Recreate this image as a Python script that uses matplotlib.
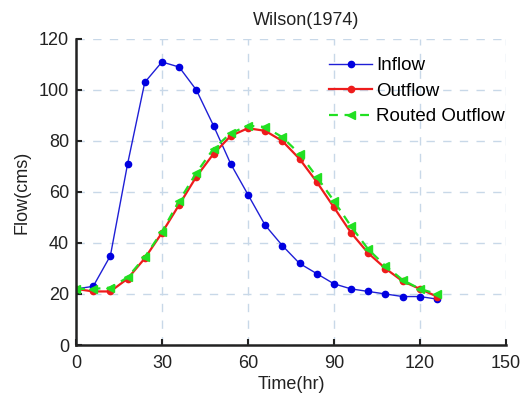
import matplotlib.pyplot as plt

plt.rcParams['font.family'] = ['Liberation Sans', 'DejaVu Sans']

time = [0, 6, 12, 18, 24, 30, 36, 42, 48, 54, 60, 66, 72, 78, 84, 90, 96, 102, 108, 114, 120, 126]
inflow = [22, 23, 35, 71, 103, 111, 109, 100, 86, 71, 59, 47, 39, 32, 28, 24, 22, 21, 20, 19, 19, 18]
outflow = [22, 21, 21, 26, 34, 44, 55, 66, 75, 82, 85, 84, 80, 73, 64, 54, 44, 36, 30, 25, 22, 19]
routed = [22, 22, 22.5, 26.5, 34.5, 44.5, 56.5, 67.5, 77, 83, 86, 85.5, 81.5, 75, 66, 56.5, 46.5, 37.5, 31, 25.5, 22, 20]

xticks = [0, 30, 60, 90, 120, 150]
yticks = [0, 20, 40, 60, 80, 100, 120]

fig = plt.figure(figsize=(5.22, 4.0), dpi=100)
ax = fig.add_axes([0.1456, 0.1375, 0.8234, 0.765])

ax.plot(time, inflow, color='#1f1fd6', marker='o', markersize=4.5, linewidth=1,
        label='Inflow', markerfacecolor='#0000e0', markeredgecolor='#0000e0')
ax.plot(time, outflow, color='#ee1c1c', marker='o', markersize=4.5, linewidth=1.6,
        label='Outflow')
ax.plot(time, routed, color='#22e022', marker='<', markersize=6, linewidth=1.6,
        linestyle='--', dashes=(4, 3), label='Routed Outflow')

ax.set_xlim(0, 150)
ax.set_ylim(0, 120)
ax.set_xticks(xticks)
ax.set_yticks(yticks)
ax.grid(True, color='#c8d8e8', linestyle=(0, (6, 6)), linewidth=1)
ax.set_axisbelow(True)
for s in ['top', 'right']:
    ax.spines[s].set_visible(False)
for s in ['left', 'bottom']:
    ax.spines[s].set_linewidth(1.8)
    ax.spines[s].set_color('#222222')
ax.tick_params(labelsize=13, direction='in', length=4, width=1.5, colors='#222222')
ax.tick_params(axis='x', pad=7)
ax.tick_params(axis='y', pad=5)
ax.set_xlabel('Time(hr)', fontsize=13, color='#222222', labelpad=3)
ax.set_ylabel('Flow(cms)', fontsize=13, color='#222222', labelpad=6)
ax.set_title('Wilson(1974)', fontsize=13, color='#222222', pad=10, x=0.535)

leg = ax.legend(loc='upper right', fontsize=13.5, frameon=False, handlelength=2.3,
                handletextpad=0.2, labelspacing=0.45, borderaxespad=0.0,
                bbox_to_anchor=(1.015, 0.965))

fig.savefig('out.png', dpi=100)
